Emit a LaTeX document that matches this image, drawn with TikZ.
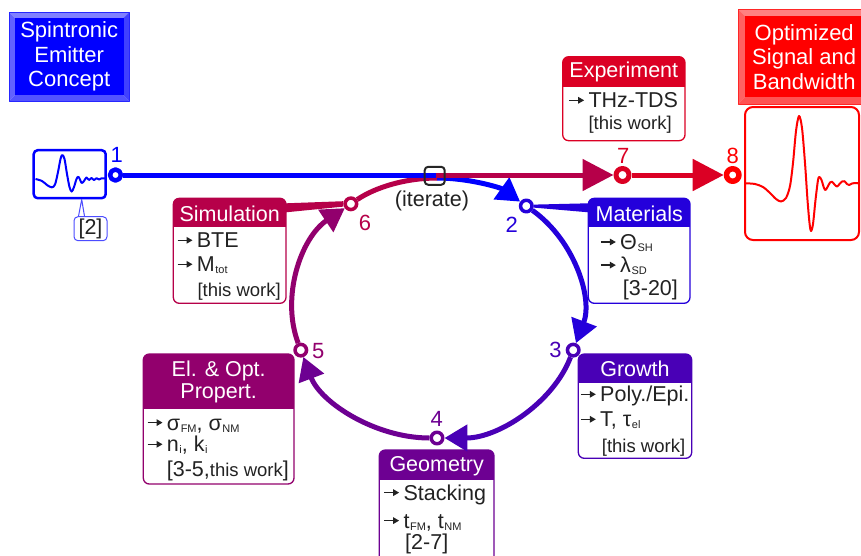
\documentclass[tikz,border=0pt]{standalone}
\usepackage{fontspec}
\setmainfont{Liberation Sans}
\usetikzlibrary{arrows.meta,calc}
\definecolor{cA}{RGB}{0,0,255}
\definecolor{cB}{RGB}{36,0,219}
\definecolor{cC}{RGB}{73,0,182}
\definecolor{cD}{RGB}{109,0,146}
\definecolor{cE}{RGB}{146,0,109}
\definecolor{cF}{RGB}{182,0,73}
\definecolor{cG}{RGB}{219,0,36}
\definecolor{cH}{RGB}{255,0,0}
\definecolor{txt}{RGB}{34,34,34}
\newcommand\fsz[1]{\fontsize{#1}{#1}\selectfont}
\newcommand\itarr{\makebox[20pt][l]{\tikz[x=1pt,y=1pt,baseline=0pt]\draw[line width=1.3pt,draw=txt,-{Triangle[length=6pt,width=6.5pt]}] (0,7.4)--(15,7.4);}}
\newcommand\sbs[1]{\hspace{0.6pt}\raisebox{-2pt}{\fsz{11}#1}}
\newcommand\infobox[7]{%
  \node[inner sep=0,outer sep=0,minimum width=#5pt-#3pt,minimum height=#6pt-#4pt,anchor=north west] (#1) at (#3,#4) {};
  \begin{scope}
    \clip[rounded corners=6pt] (#3,#4) rectangle (#5,#6);
    \fill[#2] (#3,#4) rectangle (#5,#7);
  \end{scope}
  \draw[#2,line width=1.3pt,rounded corners=6pt] (#3,#4) rectangle (#5,#6);
}
\newcommand\bevelbox[6]{%
  \fill[#6!50!white] (#1,#2) -- (#3,#2) -- (#3-#5,#2+#5) -- (#1+#5,#2+#5) -- cycle;
  \fill[#6!62!white] (#1,#2) -- (#1+#5,#2+#5) -- (#1+#5,#4-#5) -- (#1,#4) -- cycle;
  \fill[#6!75!white] (#3,#2) -- (#3-#5,#2+#5) -- (#3-#5,#4-#5) -- (#3,#4) -- cycle;
  \fill[#6!68!white] (#1,#4) -- (#1+#5,#4-#5) -- (#3-#5,#4-#5) -- (#3,#4) -- cycle;
  \fill[#6] (#1+#5,#2+#5) rectangle (#3-#5,#4-#5);
  \draw[#6!85!white,line width=0.8pt] (#1,#2) rectangle (#3,#4);
}
\tikzset{
  hdr/.style={text=white,font=\fsz{21.5},inner sep=0,anchor=base},
  itm/.style={text=txt,font=\fsz{21.5},inner sep=0,anchor=base west},
  smalltxt/.style={text=txt,font=\fsz{18.5},inner sep=0,anchor=base west},
  num/.style={font=\fsz{22},inner sep=0},
  dot/.style={circle,draw=#1,fill=white,line width=3.5pt,minimum size=11.5pt,inner sep=0},
  cyc/.style={line width=5pt,-{Triangle[length=23pt,width=26pt]},shorten <=7.5pt,shorten >=7.5pt},
  mainarr/.style={line width=5pt,-{Triangle[length=31pt,width=31pt]}},
  bigtext/.style={align=center,font=\fontsize{22}{24.5}\selectfont,text=white,inner sep=0},
  ell/.style={x radius=144pt,y radius=130pt}
}
\begin{document}
\begin{tikzpicture}[x=1pt,y=-1pt,line join=round]
\useasboundingbox (0,0) rectangle (861,555);
\fill[white] (0,0) rectangle (861,555);

% concept and result boxes
\bevelbox{9}{12.3}{129.3}{101}{5.8}{cA}
\node[bigtext,minimum width=120pt,minimum height=88pt] (concept) at (69.2,56.65) {Spintronic\\Emitter\\Concept};
\bevelbox{738.3}{9.3}{870}{104}{7}{cH}
\node[bigtext,minimum width=130pt,minimum height=94pt] (result) at (804.2,56.65) {Optimized\\Signal and\\Bandwidth};

% waveform boxes
\node[draw=cA,line width=2.5pt,rounded corners=4pt,minimum width=72pt,minimum height=48pt,inner sep=0] (wL) at (69.7,174.2) {};
\draw[cA,line width=2pt,smooth,tension=0.55] plot coordinates {(35.5,179) (42,181) (47,185) (51.7,187.3) (55,184.5) (58,172) (60.5,159) (62.3,155) (64.5,159) (67,174) (69.5,187) (71.7,191.5) (74,187) (76.5,179) (78.3,176.8) (80,179.5) (81.7,183) (84,181) (86.5,177.5) (89,180) (91.5,178) (94,180) (96.5,178.2) (99,179.5) (101.5,178.3) (105,178.4)};
\node[draw=cH,line width=2pt,rounded corners=8pt,minimum width=114pt,minimum height=133pt,inner sep=0] (wR) at (802,173.5) {};
\draw[cH,line width=2pt,smooth,tension=0.5] plot coordinates {(746,183.3) (755,184) (763,187) (770,193) (776,199) (781,201.5) (786,198) (790,186) (793,163) (796,131) (799,116) (802,128) (805,163) (807.5,200) (809.5,223) (811,231) (813,224) (815.5,200) (818,180) (819.5,177) (821.5,180) (824,188) (825.5,190) (827.5,187) (830,182.5) (832,181.7) (834.5,184.5) (837,186.5) (839.5,184) (842,181.5) (844.5,181.2) (847,184) (849,185) (852,183.5) (856,183) (858,183.3)};

% callout [2]
\node[draw=cA!70!white,fill=white,line width=1pt,rounded corners=4pt,minimum width=33pt,minimum height=24pt,inner sep=0,font=\fsz{21.5},text=txt] (ref) at (90.5,228.7) {[2]};
\coordinate (tip) at (81.7,199.5);
\draw[cA!70!white,line width=1pt] ($(ref.north west)+(5,0)$) -- (tip) -- ($(ref.north west)+(11,0)$);

% info boxes
\infobox{exp}{cG}{562.7}{56.7}{685}{140.7}{86.7}
\node[hdr] (expH) at (623.8,77.7) {Experiment};
\node[itm] (exp1) at (568.3,107.7) {\itarr THz-TDS};
\node[smalltxt] (exp2) at (588.3,129.7) {[this work]};

\infobox{mat}{cB}{588.3}{198.3}{690}{303.3}{226.7}
\node[hdr] (matH) at (639.2,221) {Materials};
\node[itm] (mat1) at (600,249.4) {\itarr Θ\sbs{SH}};
\node[itm] (mat2) at (600,272.5) {\itarr λ\sbs{SD}};
\node[itm] (mat3) at (622.7,295.5) {[3-20]};

\infobox{sim}{cF}{173.3}{198.3}{286}{303.3}{226.7}
\node[hdr] (simH) at (229.7,221) {Simulation};
\node[itm] (sim1) at (176.7,247.7) {\itarr BTE};
\node[itm] (sim2) at (176.7,271.7) {\itarr M\sbs{tot}};
\node[smalltxt] (sim3) at (197.3,296) {[this work]};

\infobox{gro}{cC}{578.3}{354}{691.7}{458.3}{383.3}
\node[hdr] (groH) at (635,376) {Growth};
\node[itm] (gro1) at (580,401.7) {\itarr Poly./Epi.};
\node[itm] (gro2) at (580,426.7) {\itarr T, τ\sbs{el}};
\node[smalltxt] (gro3) at (601.7,452.5) {[this work]};

\infobox{eop}{cE}{143.3}{354}{294}{484}{409}
\node[hdr] (eopH1) at (218.7,376.7) {El. \& Opt.};
\node[hdr] (eopH2) at (218.7,398.3) {Propert.};
\node[itm] (eop1) at (146.7,430) {\itarr σ\sbs{FM}, σ\sbs{NM}};
\node[itm] (eop2) at (146.7,451.7) {\itarr n\sbs{i}, k\sbs{i}};
\node[itm] (eop3) at (166.7,476) {[3-5,{\fsz{18.5}this work}]};

\infobox{geo}{cD}{379.3}{450}{494}{562}{480}
\node[hdr] (geoH) at (436.7,471) {Geometry};
\node[itm] (geo1) at (383.3,500) {\itarr Stacking};
\node[itm] (geo2) at (383.3,528) {\itarr t\sbs{FM}, t\sbs{NM}};
\node[itm] (geo3) at (405,549) {[2-7]};

% process nodes
\node[dot=cA,line width=4.5pt,minimum size=11pt] (n1) at (115.5,175) {};
\node[dot=cB] (n2) at (526.3,206) {};
\node[dot=cC] (n3) at (573.2,350.1) {};
\node[dot=cD] (n4) at (437,438) {};
\node[dot=cE] (n5) at (300.8,350.1) {};
\node[dot=cF] (n6) at (350.9,203.8) {};
\node[dot=cG,line width=5pt,minimum size=13pt] (n7) at (622.5,175) {};
\node[dot=cH,line width=5.5pt,minimum size=12.5pt] (n8) at (732.7,175) {};
\coordinate (jt) at (437,178);
\coordinate (jn) at (436,175);

% number labels
\node[num,text=cA] (l1) at (116.7,155) {1};
\node[num,text=cB] (l2) at (511.7,225) {2};
\node[num,text=cC] (l3) at (555.5,350) {3};
\node[num,text=cD] (l4) at (436.7,418.5) {4};
\node[num,text=cE] (l5) at (318.3,351) {5};
\node[num,text=cF] (l6) at (365,223.3) {6};
\node[num,text=cG] (l7) at (623.3,156) {7};
\node[num,text=cH] (l8) at (732.7,156) {8};

% wedge connectors to boxes
\fill[cB] ($(n2.east)+(0,-1.4)$) -- ($(mat.north west)+(0,5)$) -- ($(mat.north west)+(0,14)$) -- ($(n2.east)+(0,1.6)$) -- cycle;
\fill[cF] ($(n6.west)+(0,-2.6)$) -- ($(sim.north east)+(0,5)$) -- ($(sim.north east)+(0,14)$) -- ($(n6.west)+(0,2.8)$) -- cycle;

% cycle arcs
\draw[cyc,cA,shorten <=0pt] (jt) arc[ell,start angle=90,end angle=51.7];
\draw[cyc,cB] (n2) arc[ell,start angle=51.7,end angle=-18.9];
\draw[cyc,cC] (n3) arc[ell,start angle=-18.9,end angle=-90];
\draw[cyc,cD] (n4) arc[ell,start angle=-90,end angle=-161.2];
\draw[cyc,cE] (n5) arc[ell,start angle=-161.2,end angle=-233.3];
\draw[line width=5pt,cF,shorten <=7.5pt] (n6) arc[ell,start angle=126.7,end angle=90];

% main line
\draw[line width=5pt,cA] (n1) -- (jn);
\draw[mainarr,cF] (jn) -- (n7);
\draw[mainarr,cG] (n7) -- (n8);

% iterate junction
\node[draw=black!85,line width=2pt,rounded corners=3.5pt,minimum width=20pt,minimum height=18pt,inner sep=0] (it) at (434.7,175.8) {};
\node[font=\fsz{21.5},text=txt,inner sep=0] (itlbl) at (432,200.5) {(iterate)};
\end{tikzpicture}
\end{document}
